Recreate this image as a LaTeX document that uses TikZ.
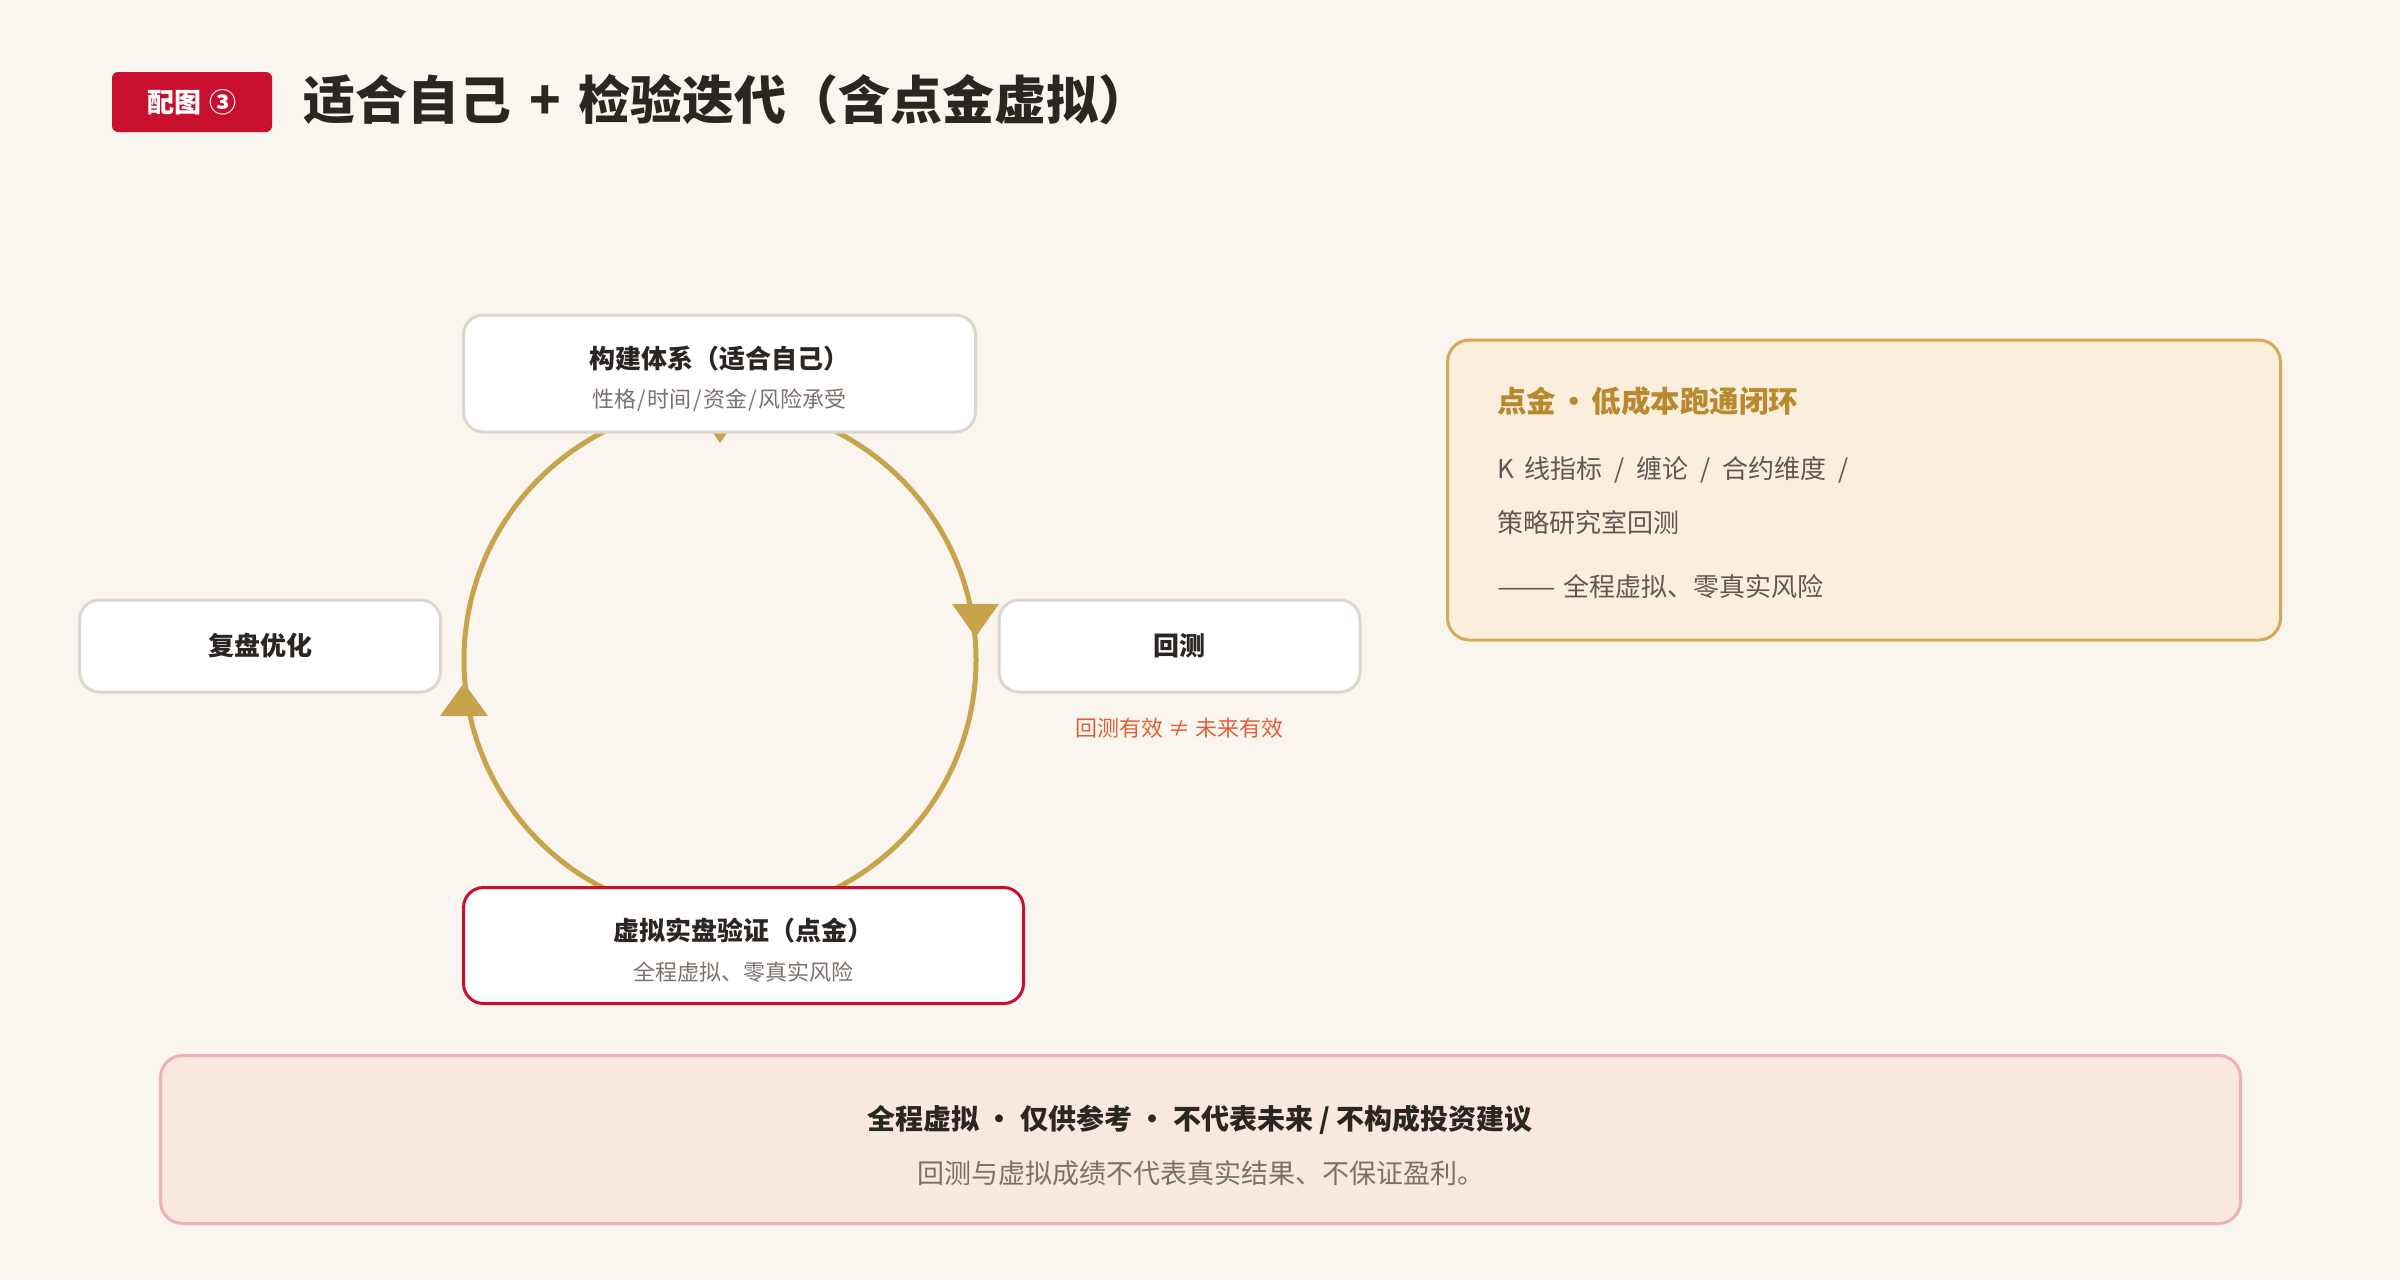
\documentclass[tikz,border=0pt]{standalone}
\usepackage{fontspec}
\usepackage{graphicx}
\setmainfont{Noto Sans CJK SC}
\definecolor{bg}{HTML}{FAF5EE}
\definecolor{ink}{HTML}{2B2622}
\definecolor{subgray}{HTML}{7A716B}
\definecolor{bodygray}{HTML}{5F5852}
\definecolor{gold}{HTML}{C9A24C}
\definecolor{goldtext}{HTML}{B8892E}
\definecolor{brandred}{HTML}{C8102E}
\definecolor{warn}{HTML}{E0603A}
\definecolor{boxline}{HTML}{DDD6CC}
\definecolor{panelfill}{HTML}{FBEEDC}
\definecolor{panelline}{HTML}{D4AA55}
\definecolor{discfill}{HTML}{F8E8E0}
\definecolor{discline}{HTML}{EDB3B3}
\newcommand{\fs}[1]{\fontsize{#1}{#1}\selectfont}
\newcommand{\gp}{\hspace{12pt}}
\tikzset{
  wbox/.style={draw=boxline, line width=3pt, fill=white, rounded corners=20pt, inner sep=0pt},
  rbox/.style={draw=brandred, line width=3pt, fill=white, rounded corners=20pt, inner sep=0pt},
  ttl/.style={text=ink, font=\fs{26}\bfseries, inner sep=0pt},
  sub/.style={text=subgray, font=\fs{22}, inner sep=0pt},
  body/.style={text=bodygray, font=\fs{26}, inner sep=0pt, anchor=west},
  tri/.style={fill=gold, draw=none}
}
\begin{document}
\begin{tikzpicture}[x=1pt,y=-1pt]
\fill[bg] (0,0) rectangle (2400,1280);
\useasboundingbox (0,0) rectangle (2400,1280);

% header
\node[fill=brandred, rounded corners=6pt, minimum width=160, minimum height=60, inner sep=0pt] (badge) at (192,102) {};
\node[text=white, font=\fs{27}\bfseries, inner sep=0pt] (badgeT) at (192,102) {配图\hspace{8pt}③};
\node[text=ink, font=\fs{52}\bfseries, inner sep=0pt, anchor=west] (title) at (303,100) {适合自己\hspace{18pt}+\hspace{18pt}检验迭代（含点金虚拟）};

% cycle
\coordinate (cc) at (720,660);
\draw[gold, line width=5pt] (cc) circle (256);
\fill[tri] (952,604) -- (999,604) -- (975.5,637) -- cycle;
\fill[tri] (440,716) -- (488,716) -- (464,683) -- cycle;
\fill[tri] (697,410) -- (743,410) -- (720,443) -- cycle;

% nodes of the cycle
\node[wbox, minimum width=512, minimum height=117] (sys) at (719.5,373.5) {};
\node[ttl] (sysT) at (719.5,359) {构建体系（适合自己）};
\node[sub] (sysS) at (719.5,400) {性格\kern1.5pt/\kern1.5pt时间\kern1.5pt/\kern1.5pt资金\kern1.5pt/\kern1.5pt风险承受};

\node[wbox, minimum width=361, minimum height=92] (rev) at (260,646) {};
\node[ttl] (revT) at (260,646) {复盘优化};

\node[wbox, minimum width=361, minimum height=92] (bt) at (1179.5,646) {};
\node[ttl] (btT) at (1179.5,646) {回测};
\node[text=warn, font=\fs{22}, inner sep=0pt] (btN) at (1179.5,728) {回测有效 ≠ 未来有效};

\node[rbox, minimum width=560, minimum height=116] (sim) at (743.5,945.5) {};
\node[ttl] (simT) at (743.5,931) {虚拟实盘验证（点金）};
\node[sub] (simS) at (743.5,972) {全程虚拟、零真实风险};

% right panel
\node[draw=panelline, line width=3pt, fill=panelfill, rounded corners=22pt, minimum width=833, minimum height=300, inner sep=0pt] (panel) at (1864,490) {};
\node[text=goldtext, font=\fs{29.5}\bfseries, inner sep=0pt, anchor=west] (panT) at (1497,401) {点金\kern3pt·\kern3pt低成本跑通闭环};
\node[body] (panA) at (1497,470) {K\hspace{10pt}线指标\gp{}/\gp{}缠论\gp{}/\gp{}合约维度\gp{}/};
\node[body] (panB) at (1497,523) {策略研究室回测};
\node[body] (panC) at (1497,587) {\scalebox{1.35}[1]{——}\hspace{7pt}全程虚拟、零真实风险};

% disclaimer
\node[draw=discline, line width=3pt, fill=discfill, rounded corners=22pt, minimum width=2080, minimum height=168, inner sep=0pt] (disc) at (1200.5,1139.5) {};
\node[text=ink, font=\fs{28}\bfseries, inner sep=0pt] (discT) at (1200,1120) {全程虚拟 · 仅供参考 · 不代表未来 / 不构成投资建议};
\node[text=subgray, font=\fs{27}, inner sep=0pt] (discS) at (1201,1173) {回测与虚拟成绩不代表真实结果、不保证盈利。};
\end{tikzpicture}
\end{document}
